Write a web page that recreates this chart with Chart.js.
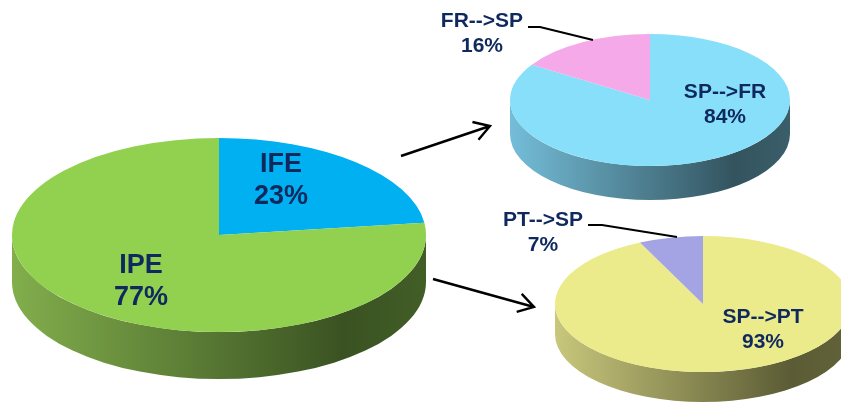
<!DOCTYPE html>
<html>
<head>
<meta charset="utf-8">
<script src="https://cdn.jsdelivr.net/npm/chart.js@4.4.0/dist/chart.umd.min.js"></script>
<style>
  html, body { margin: 0; padding: 0; background: #fff; overflow: hidden; }
  #wrap { position: relative; width: 841px; height: 408px; }
  #wrap canvas { position: absolute; left: 0; top: 0; }
</style>
</head>
<body>
<div id="wrap">
  <canvas id="main"></canvas>
  <canvas id="fr"></canvas>
  <canvas id="pt"></canvas>
</div>
<script>
// overall split
const mainLabels = ['IFE', 'IPE'];
const mainValues = [23, 77];
// SP <-> FR
const frLabels = ['SP-->FR', 'FR-->SP'];
const frValues = [84, 16];
// SP <-> PT
const ptLabels = ['SP-->PT', 'PT-->SP'];
const ptValues = [93, 7];

const W = 841, H = 408;
const textColor = '#0f295e';

// pad the chart area so the pie centre lands at (cx, cy)
function padFor(cx, cy) {
  const p = { left: 0, right: 0, top: 0, bottom: 0 };
  if (cx * 2 > W) p.left = cx * 2 - W; else p.right = W - cx * 2;
  if (cy * 2 > H) p.top = cy * 2 - H; else p.bottom = H - cy * 2;
  return p;
}

// squash the pie into an ellipse and give it a side wall
const tilt = {
  id: 'tilt',
  beforeDatasetsDraw(chart, args, o) {
    const ctx = chart.ctx;
    const arcs = chart.getDatasetMeta(0).data;
    const cx = arcs[0].x, cy = arcs[0].y, r = arcs[0].outerRadius;
    arcs.forEach((a, i) => {
      const s = Math.max(a.startAngle, 0), e = Math.min(a.endAngle, Math.PI);
      if (e <= s) return;
      const g = ctx.createLinearGradient(cx - r, 0, cx + r, 0);
      g.addColorStop(0, o.sides[i][0]);
      g.addColorStop(0.8, o.sides[i][1]);
      g.addColorStop(1, o.sides[i][2]);
      ctx.beginPath();
      ctx.ellipse(cx, cy, r, o.ry, 0, s, e, false);
      ctx.ellipse(cx, cy + o.depth, r, o.ry, 0, e, s, true);
      ctx.closePath();
      ctx.fillStyle = g;
      ctx.fill();
    });
    ctx.save();
    ctx.translate(cx, cy);
    ctx.scale(1, o.ry / r);
    ctx.translate(-cx, -cy);
  },
  afterDatasetsDraw(chart) {
    chart.ctx.restore();
  },
  afterDraw(chart, args, o) {
    const ctx = chart.ctx;
    const vals = chart.data.datasets[0].data;
    const total = vals.reduce((a, b) => a + b, 0);
    ctx.save();
    ctx.strokeStyle = '#000';
    ctx.lineWidth = 2;
    (o.leaders || []).forEach(l => {
      ctx.beginPath();
      ctx.moveTo(l[0][0], l[0][1]);
      for (let k = 1; k < l.length; k++) ctx.lineTo(l[k][0], l[k][1]);
      ctx.stroke();
    });
    ctx.fillStyle = textColor;
    ctx.textAlign = 'center';
    ctx.textBaseline = 'alphabetic';
    ctx.font = 'bold ' + o.font + 'px "Liberation Sans", Arial, sans-serif';
    chart.data.labels.forEach((lab, i) => {
      const p = o.text[i];
      ctx.fillText(lab, p[0], p[1]);
      ctx.fillText(Math.round(vals[i] / total * 100) + '%', p[0], p[1] + o.gap);
    });
    (o.arrows || []).forEach(a => {
      const [x1, y1, x2, y2] = a;
      const ang = Math.atan2(y2 - y1, x2 - x1);
      ctx.lineWidth = 2.4;
      ctx.beginPath();
      ctx.moveTo(x1, y1);
      ctx.lineTo(x2, y2);
      ctx.moveTo(x2 - 18 * Math.cos(ang - 0.55), y2 - 18 * Math.sin(ang - 0.55));
      ctx.lineTo(x2, y2);
      ctx.lineTo(x2 - 18 * Math.cos(ang + 0.55), y2 - 18 * Math.sin(ang + 0.55));
      ctx.stroke();
    });
    ctx.restore();
  }
};

function makePie(id, labels, values, colors, g) {
  const el = document.getElementById(id);
  el.width = W; el.height = H;
  return new Chart(el, {
    type: 'pie',
    data: {
      labels: labels,
      datasets: [{ data: values, backgroundColor: colors, borderWidth: 0, radius: g.rx, clip: false }]
    },
    options: {
      responsive: false,
      animation: false,
      events: [],
      layout: { padding: padFor(g.cx, g.cy) },
      plugins: {
        legend: { display: false },
        tooltip: { enabled: false },
        tilt: g
      }
    },
    plugins: [tilt]
  });
}

makePie('main', mainLabels, mainValues, ['#00b0f0', '#92d050'], {
  cx: 219, cy: 235, rx: 207, ry: 97, depth: 47,
  sides: [['#2a9cc8', '#0a5a78', '#106080'], ['#82ae4c', '#3a5222', '#425e27']],
  font: 27, gap: 32,
  text: [[281, 172], [141, 273]],
  arrows: [[401, 156, 490, 126], [433, 279, 534, 307]]
});

makePie('fr', frLabels, frValues, ['#88dffa', '#f5a9e9'], {
  cx: 650, cy: 100, rx: 140, ry: 66, depth: 34,
  sides: [['#74bdd8', '#33545f', '#3a5e6a'], ['#c08ab8', '#5f4060', '#664468']],
  font: 21, gap: 25,
  text: [[725, 98], [482, 27]],
  leaders: [[[528, 27], [540, 27], [593, 40]]]
});

makePie('pt', ptLabels, ptValues, ['#ebeb8c', '#a4a4e4'], {
  cx: 703, cy: 304, rx: 148, ry: 68, depth: 30,
  sides: [['#c8c77c', '#5b5b35', '#62623a'], ['#8080c0', '#404070', '#484878']],
  font: 21, gap: 25,
  text: [[763, 323], [543, 226]],
  leaders: [[[588, 225], [602, 225], [677, 237]]]
});
</script>
</body>
</html>
